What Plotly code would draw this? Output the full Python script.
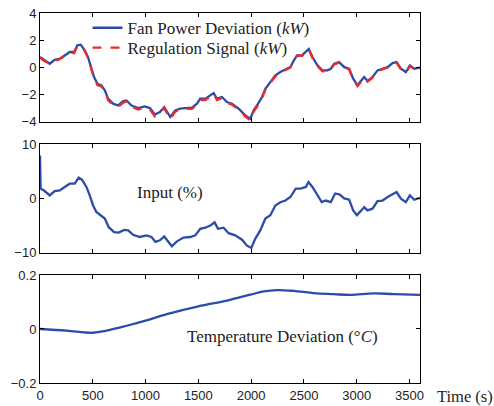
import plotly.graph_objects as go
from plotly.subplots import make_subplots

# ---- data ----
t_top = [0, 44, 92, 139, 187, 234, 282, 323, 354, 386,
         424, 455, 487, 512, 544, 582, 614, 645, 693, 740,
         788, 819, 867, 930, 993, 1041, 1088, 1136, 1177, 1234,
         1281, 1328, 1376, 1439, 1487, 1518, 1566, 1613, 1645, 1676,
         1724, 1771, 1819, 1882, 1945, 1993, 2024, 2056, 2104, 2135,
         2182, 2230, 2277, 2325, 2372, 2404, 2435, 2483, 2530, 2546,
         2581, 2628, 2676, 2723, 2755, 2787, 2834, 2882, 2929, 2967,
         3008, 3040, 3071, 3103, 3150, 3198, 3245, 3293, 3340, 3378,
         3419, 3466, 3504, 3546, 3600]
fan_power = [0.76, 0.51, 0.27, 0.56, 0.64, 0.88, 1.13, 1.13, 1.62, 1.67,
             1.25, 0.76, 0.02, -0.71, -1.2, -1.32, -1.69, -2.3, -2.67, -2.8,
             -2.48, -2.43, -2.8, -2.99, -2.87, -2.99, -3.46, -3.28, -2.92, -3.65,
             -3.16, -3.04, -2.99, -2.97, -2.67, -2.3, -2.3, -2.06, -1.89, -2.3,
             -2.18, -2.55, -2.67, -3.04, -3.53, -3.78, -3.16, -2.8, -2.18, -1.57,
             -1.08, -0.59, -0.34, -0.15, 0.02, 0.5, 0.88, 0.88, 1.25, 1.35,
             0.76, 0.15, -0.22, -0.22, -0.1, 0.27, 0.39, 0.02, -0.1, -0.83,
             -1.32, -1.0, -0.71, -1.0, -0.71, -0.22, -0.1, 0.02, 0.32, 0.39,
             -0.1, -0.34, 0.15, -0.1, -0.02]
regulation = [0.70, 0.45, 0.30, 0.50, 0.60, 0.85, 1.10, 1.05, 1.55, 1.60,
              1.20, 0.70, -0.05, -0.80, -1.30, -1.40, -1.80, -2.40, -2.80, -2.90,
              -2.60, -2.50, -2.90, -3.10, -2.95, -3.10, -3.60, -3.35, -3.00, -3.80,
              -3.25, -3.10, -3.05, -3.05, -2.75, -2.40, -2.40, -2.15, -1.95, -2.40,
              -2.25, -2.60, -2.75, -3.10, -3.60, -3.90, -3.25, -2.90, -2.25, -1.65,
              -1.15, -0.65, -0.40, -0.20, 0.00, 0.45, 0.85, 0.85, 1.20, 1.35,
              0.70, 0.10, -0.28, -0.25, -0.15, 0.22, 0.35, 0.00, -0.15, -0.90,
              -1.38, -1.05, -0.78, -1.05, -0.75, -0.28, -0.15, 0.00, 0.28, 0.36,
              -0.15, -0.38, 0.10, -0.12, -0.02]

t_input = [0, 6, 44, 92, 139, 187, 234, 282, 329, 367,
           399, 440, 471, 503, 534, 576, 614, 651, 702, 746,
           797, 835, 882, 946, 1009, 1056, 1094, 1136, 1177, 1249,
           1297, 1360, 1423, 1471, 1518, 1566, 1613, 1654, 1686, 1739,
           1787, 1850, 1914, 1961, 2002, 2040, 2087, 2135, 2182, 2230,
           2277, 2325, 2372, 2423, 2470, 2518, 2543, 2581, 2628, 2669,
           2707, 2755, 2796, 2840, 2882, 2929, 2967, 3002, 3040, 3071,
           3103, 3150, 3198, 3245, 3293, 3340, 3378, 3419, 3466, 3504,
           3546, 3600]
input_pct = [7.9, 1.8, 1.35, 0.55, 1.35, 1.47, 2.1, 2.7, 2.7, 3.8,
             3.4, 2.1, 0.55, -1.3, -2.5, -3.1, -3.7, -5.3, -6.2, -6.3,
             -5.8, -5.9, -6.7, -7.1, -6.8, -7.1, -8.0, -7.7, -7.0, -8.8,
             -7.9, -7.2, -7.1, -6.8, -5.6, -5.4, -5.0, -4.4, -5.6, -5.4,
             -6.4, -6.8, -7.6, -8.7, -9.1, -7.4, -5.9, -3.7, -3.1, -1.3,
             -0.7, -0.4, 0.24, 1.8, 1.8, 2.1, 3.0, 2.1, 0.55, -0.7,
             -0.4, -0.7, 0.9, 0.7, 0.0, -0.25, -2.2, -3.1, -2.3, -1.6,
             -2.2, -1.9, -0.5, -0.4, 0.24, 0.74, 1.16, -0.05, -0.7, 0.55,
             -0.25, 0.1]

t_temp = [0, 253, 500, 633, 822, 1000, 1202, 1500, 1771, 1993,
          2119, 2246, 2404, 2594, 2783, 2941, 3163, 3352, 3600]
temp_dev = [0, -0.006, -0.014, -0.006, 0.012, 0.031, 0.055, 0.084, 0.105, 0.127,
            0.139, 0.144, 0.141, 0.133, 0.129, 0.126, 0.132, 0.129, 0.126]

x_ticks = [0, 500, 1000, 1500, 2000, 2500, 3000, 3500]
temp_ticks = [-0.2, 0, 0.2]
temp_ticklabels = ["\u22120.2", "0", "0.2"]

BLUE = "#2c4ca8"
RED = "#ee2a2a"
SANS = "Liberation Sans, Arial, sans-serif"
SERIF = "Liberation Serif, Times New Roman, serif"
TXT = dict(family=SERIF, size=17, color="#222")

fig = make_subplots(rows=3, cols=1, shared_xaxes=False, vertical_spacing=0.06)

fig.add_trace(go.Scatter(x=t_top, y=fan_power, mode="lines",
                         line=dict(color=BLUE, width=2.3),
                         name="Fan Power Deviation (<i>kW</i>)", legend="legend"), row=1, col=1)
fig.add_trace(go.Scatter(x=t_top, y=regulation, mode="lines",
                         line=dict(color=RED, width=2.3, dash="dash"),
                         name="Regulation Signal (<i>kW</i>)", legend="legend2"), row=1, col=1)
fig.add_trace(go.Scatter(x=t_input, y=input_pct, mode="lines",
                         line=dict(color=BLUE, width=2.3), showlegend=False), row=2, col=1)
fig.add_trace(go.Scatter(x=t_temp, y=temp_dev, mode="lines", line_shape="spline",
                         line=dict(color=BLUE, width=2.3), showlegend=False), row=3, col=1)

axis_common = dict(showline=True, linecolor="black", linewidth=1, mirror="ticks",
                   ticks="inside", ticklen=4, tickcolor="black", showgrid=False,
                   zeroline=False, automargin=False,
                   tickfont=dict(family=SANS, size=13, color="#222"))

for r in (1, 2, 3):
    fig.update_xaxes(range=[0, 3600], tickvals=x_ticks, showticklabels=(r == 3),
                     **axis_common, row=r, col=1)

fig.update_yaxes(range=[-4, 4], tickvals=[-4, -2, 0, 2, 4], **axis_common, row=1, col=1)
fig.update_yaxes(range=[-10, 10], tickvals=[-10, 0, 10], **axis_common, row=2, col=1)
fig.update_yaxes(range=[-0.2, 0.2], tickvals=temp_ticks, ticktext=temp_ticklabels,
                 **axis_common, row=3, col=1)

leg_common = dict(xanchor="left", yanchor="top", bgcolor="rgba(0,0,0,0)",
                  font=TXT, itemwidth=30)

fig.update_layout(
    yaxis=dict(domain=[0.706, 1.0]),
    yaxis2=dict(domain=[0.352, 0.646]),
    yaxis3=dict(domain=[0.0, 0.292]),
    width=494, height=406,
    margin=dict(l=40, r=74, t=13, b=23, autoexpand=False),
    paper_bgcolor="white", plot_bgcolor="white",
    legend=dict(x=0.125, y=1.0076, **leg_common),
    legend2=dict(x=0.125, y=0.9536, **leg_common),
    annotations=[
        dict(text="Input (%)", x=0.343, y=0.516, xref="paper", yref="paper",
             xanchor="center", yanchor="middle", showarrow=False, font=TXT),
        dict(text="Temperature Deviation (°<i>C</i>)", x=0.639, y=0.125,
             xref="paper", yref="paper", xanchor="center", yanchor="middle",
             showarrow=False, font=TXT),
        dict(text="Time (s)", x=1.0395, y=-0.037, xref="paper", yref="paper",
             xanchor="left", yanchor="middle", showarrow=False,
             font=dict(family=SERIF, size=16.5, color="#222")),
    ],
)

fig.write_html("out.html")
